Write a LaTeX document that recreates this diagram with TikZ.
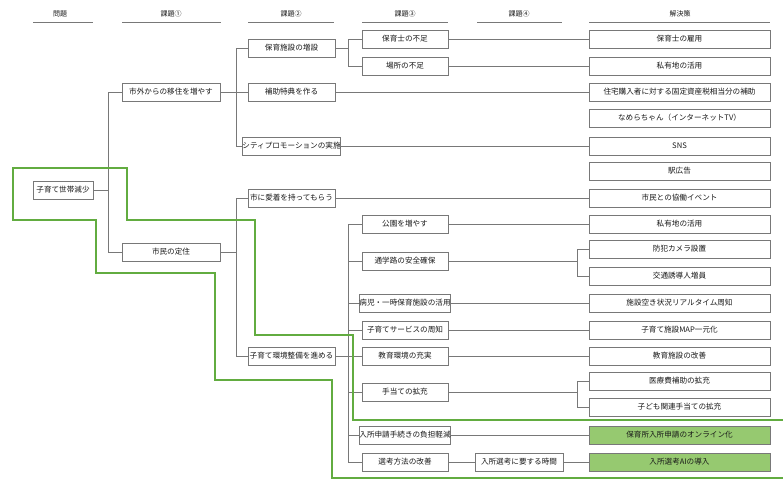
\documentclass[tikz,border=0pt]{standalone}
\usepackage{fontspec}
\newfontfamily\jp{Noto Sans CJK JP}
\definecolor{gline}{RGB}{98,172,64}
\definecolor{gfill}{RGB}{150,201,112}
\definecolor{bline}{RGB}{120,120,120}
\tikzset{
  box/.style={draw=bline, line width=0.9pt, minimum height=18pt, inner sep=0pt,
    font=\jp\fontsize{7.6}{8}\selectfont, text=black!90},
  w1/.style={box, minimum width=98pt},
  w2/.style={box, minimum width=87pt},
  w3/.style={box, minimum width=86pt},
  w4/.style={box, minimum width=88pt},
  w5/.style={box, minimum width=181pt},
  gbox/.style={w5, fill=gfill},
  conn/.style={draw=bline, line width=0.8pt},
  hdr/.style={font=\jp\fontsize{7}{8}\selectfont, text=black!90},
  hline/.style={draw=bline, line width=1pt},
  green/.style={draw=gline, line width=2pt, line join=miter}
}
\begin{document}
\begin{tikzpicture}[x=1pt,y=-1pt]
\useasboundingbox (0,0) rectangle (783,482);
\fill[white] (0,0) rectangle (783,482);
% headers
\node[hdr] (h0) at (60,14) {問題};
\node[hdr] (h1) at (171,14) {課題①};
\node[hdr] (h2) at (291,14) {課題②};
\node[hdr] (h3) at (405,14) {課題③};
\node[hdr] (h4) at (519,14) {課題④};
\node[hdr] (h5) at (680,14) {解決策};
\draw[hline] (33,22) -- (93,22);
\draw[hline] (122,22) -- (221,22);
\draw[hline] (248,22) -- (334,22);
\draw[hline] (362,22) -- (448,22);
\draw[hline] (477,22) -- (562,22);
\draw[hline] (589,22) -- (770,22);
% root
\node[box, minimum width=60pt] (root) at (63,190) {子育て世帯減少};
% level 1
\node[w1] (a1) at (171,92) {市外からの移住を増やす};
\node[w1] (a2) at (171,252) {市民の定住};
% level 2
\node[w2] (b1) at (291.5,48) {保育施設の増設};
\node[w2] (b2) at (291.5,92) {補助特典を作る};
\node[w2] (b3) at (291.5,146) {シティプロモーションの実施};
\node[w2] (b4) at (291.5,198) {市に愛着を持ってもらう};
\node[w2] (b5) at (291.5,356) {子育て環境整備を進める};
% level 3
\node[w3] (c1) at (405,39) {保育士の不足};
\node[w3] (c2) at (405,66) {場所の不足};
\node[w3] (c3) at (405,224) {公園を増やす};
\node[w3] (c4) at (405,261) {通学路の安全確保};
\node[w3] (c5) at (405,303) {病児・一時保育施設の活用};
\node[w3] (c6) at (405,330) {子育てサービスの周知};
\node[w3] (c7) at (405,356) {教育環境の充実};
\node[w3] (c8) at (405,392) {手当ての拡充};
\node[w3] (c9) at (405,435) {入所申請手続きの負担軽減};
\node[w3] (c10) at (405,462) {選考方法の改善};
% level 4
\node[w4] (d1) at (519,462) {入所選考に要する時間};
% solutions
\node[w5] (s1) at (679.5,39) {保育士の雇用};
\node[w5] (s2) at (679.5,66) {私有地の活用};
\node[w5] (s3) at (679.5,92) {住宅購入者に対する固定資産税相当分の補助};
\node[w5] (s4) at (679.5,118) {なめらちゃん（インターネットTV）};
\node[w5] (s5) at (679.5,146) {SNS};
\node[w5] (s6) at (679.5,171) {駅広告};
\node[w5] (s7) at (679.5,198) {市民との協働イベント};
\node[w5] (s8) at (679.5,224) {私有地の活用};
\node[w5] (s9) at (679.5,249) {防犯カメラ設置};
\node[w5] (s10) at (679.5,276) {交通誘導人増員};
\node[w5] (s11) at (679.5,303) {施設空き状況リアルタイム周知};
\node[w5] (s12) at (679.5,330) {子育て施設MAP一元化};
\node[w5] (s13) at (679.5,356) {教育施設の改善};
\node[w5] (s14) at (679.5,381) {医療費補助の拡充};
\node[w5] (s15) at (679.5,407) {子ども関連手当ての拡充};
\node[gbox] (s16) at (679.5,435) {保育所入所申請のオンライン化};
\node[gbox] (s17) at (679.5,462) {入所選考AIの導入};
% trunk coordinates
\coordinate (t1) at (108,0);
\coordinate (t2) at (236,0);
\coordinate (t3) at (348,0);
\coordinate (t4) at (577,0);
% root -> level1
\draw[conn] (root.east) -- (root.east -| t1);
\draw[conn] (a1.west) -- (a1.west -| t1) -- (a2.west -| t1) -- (a2.west);
% a1 -> b1..b3
\draw[conn] (a1.east) -- (b2.west);
\draw[conn] (b1.west) -- (b1.west -| t2) -- (b3.west -| t2) -- (b3.west);
% a2 -> b4,b5
\draw[conn] (a2.east) -- (a2.east -| t2);
\draw[conn] (b4.west) -- (b4.west -| t2) -- (b5.west -| t2) -- (b5.west);
% b1 -> c1,c2
\draw[conn] (b1.east) -- (b1.east -| t3);
\draw[conn] (c1.west) -- (c1.west -| t3) -- (c2.west -| t3) -- (c2.west);
% b5 -> c3..c10
\draw[conn] (b5.east) -- (b5.east -| t3);
\draw[conn] (c3.west) -- (c3.west -| t3) -- (c10.west -| t3) -- (c10.west);
\foreach \n in {c4,c5,c6,c7,c8,c9} {\draw[conn] (\n.west) -- (\n.west -| t3);}
% to solutions
\draw[conn] (c1.east) -- (s1.west);
\draw[conn] (c2.east) -- (s2.west);
\draw[conn] (b2.east) -- (s3.west);
\draw[conn] (b3.east) -- (s5.west);
\draw[conn] (b4.east) -- (s7.west);
\draw[conn] (c3.east) -- (s8.west);
\draw[conn] (c4.east) -- (c4.east -| t4);
\draw[conn] (s9.west) -- (s9.west -| t4) -- (s10.west -| t4) -- (s10.west);
\draw[conn] (c5.east) -- (s11.west);
\draw[conn] (c6.east) -- (s12.west);
\draw[conn] (c7.east) -- (s13.west);
\draw[conn] (c8.east) -- (c8.east -| t4);
\draw[conn] (s14.west) -- (s14.west -| t4) -- (s15.west -| t4) -- (s15.west);
\draw[conn] (c9.east) -- (s16.west);
\draw[conn] (c10.east) -- (d1.west);
\draw[conn] (d1.east) -- (s17.west);
% green outline
\draw[green] (783,420) -- (353,420) -- (353,335) -- (255,335) -- (255,220) -- (127,220)
  -- (127,168) -- (13,168) -- (13,220) -- (96,220) -- (96,273) -- (215,273)
  -- (215,380) -- (332,380) -- (332,478) -- (783,478);
\end{tikzpicture}
\end{document}
